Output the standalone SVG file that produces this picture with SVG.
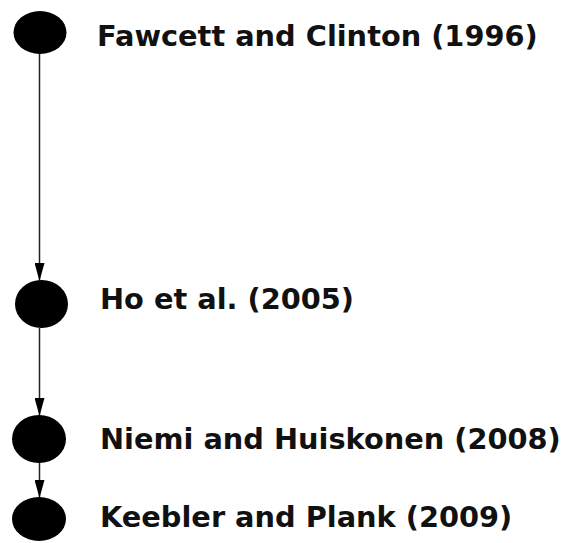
<svg xmlns="http://www.w3.org/2000/svg" width="566" height="543" viewBox="0 0 566 543">
  <style>
    .node { fill: #000; }
    .label { font-family: "DejaVu Sans", Verdana, sans-serif; font-weight: bold; font-size: 28.8px; fill: #111; }
    .edge { stroke: #222; stroke-width: 1.5; fill: none; }
  </style>
  <defs>
    <marker id="arrow" markerUnits="userSpaceOnUse" markerWidth="18" markerHeight="10" refX="18" refY="5" orient="auto">
      <path d="M0,0 L18,5 L0,10 Z" fill="#000"/>
    </marker>
  </defs>
  <rect width="566" height="543" fill="#fff"/>
  <g id="connectors">
    <line class="edge" x1="39.5" y1="53" x2="39.5" y2="281" marker-end="url(#arrow)"/>
    <line class="edge" x1="39.5" y1="328" x2="39.5" y2="416" marker-end="url(#arrow)"/>
    <line class="edge" x1="39.5" y1="463" x2="39.5" y2="498" marker-end="url(#arrow)"/>
  </g>
  <g id="node-fawcett">
    <ellipse class="node" cx="40" cy="32.5" rx="26.5" ry="21.5"/>
    <text class="label" x="97" y="46">Fawcett and Clinton (1996)</text>
  </g>
  <g id="node-ho">
    <ellipse class="node" cx="41.5" cy="304" rx="26.5" ry="24"/>
    <text class="label" x="100" y="309">Ho et al. (2005)</text>
  </g>
  <g id="node-niemi">
    <ellipse class="node" cx="39" cy="439" rx="27" ry="24"/>
    <text class="label" x="100" y="449">Niemi and Huiskonen (2008)</text>
  </g>
  <g id="node-keebler">
    <ellipse class="node" cx="39" cy="519" rx="27" ry="22"/>
    <text class="label" x="100" y="527">Keebler and Plank (2009)</text>
  </g>
</svg>
